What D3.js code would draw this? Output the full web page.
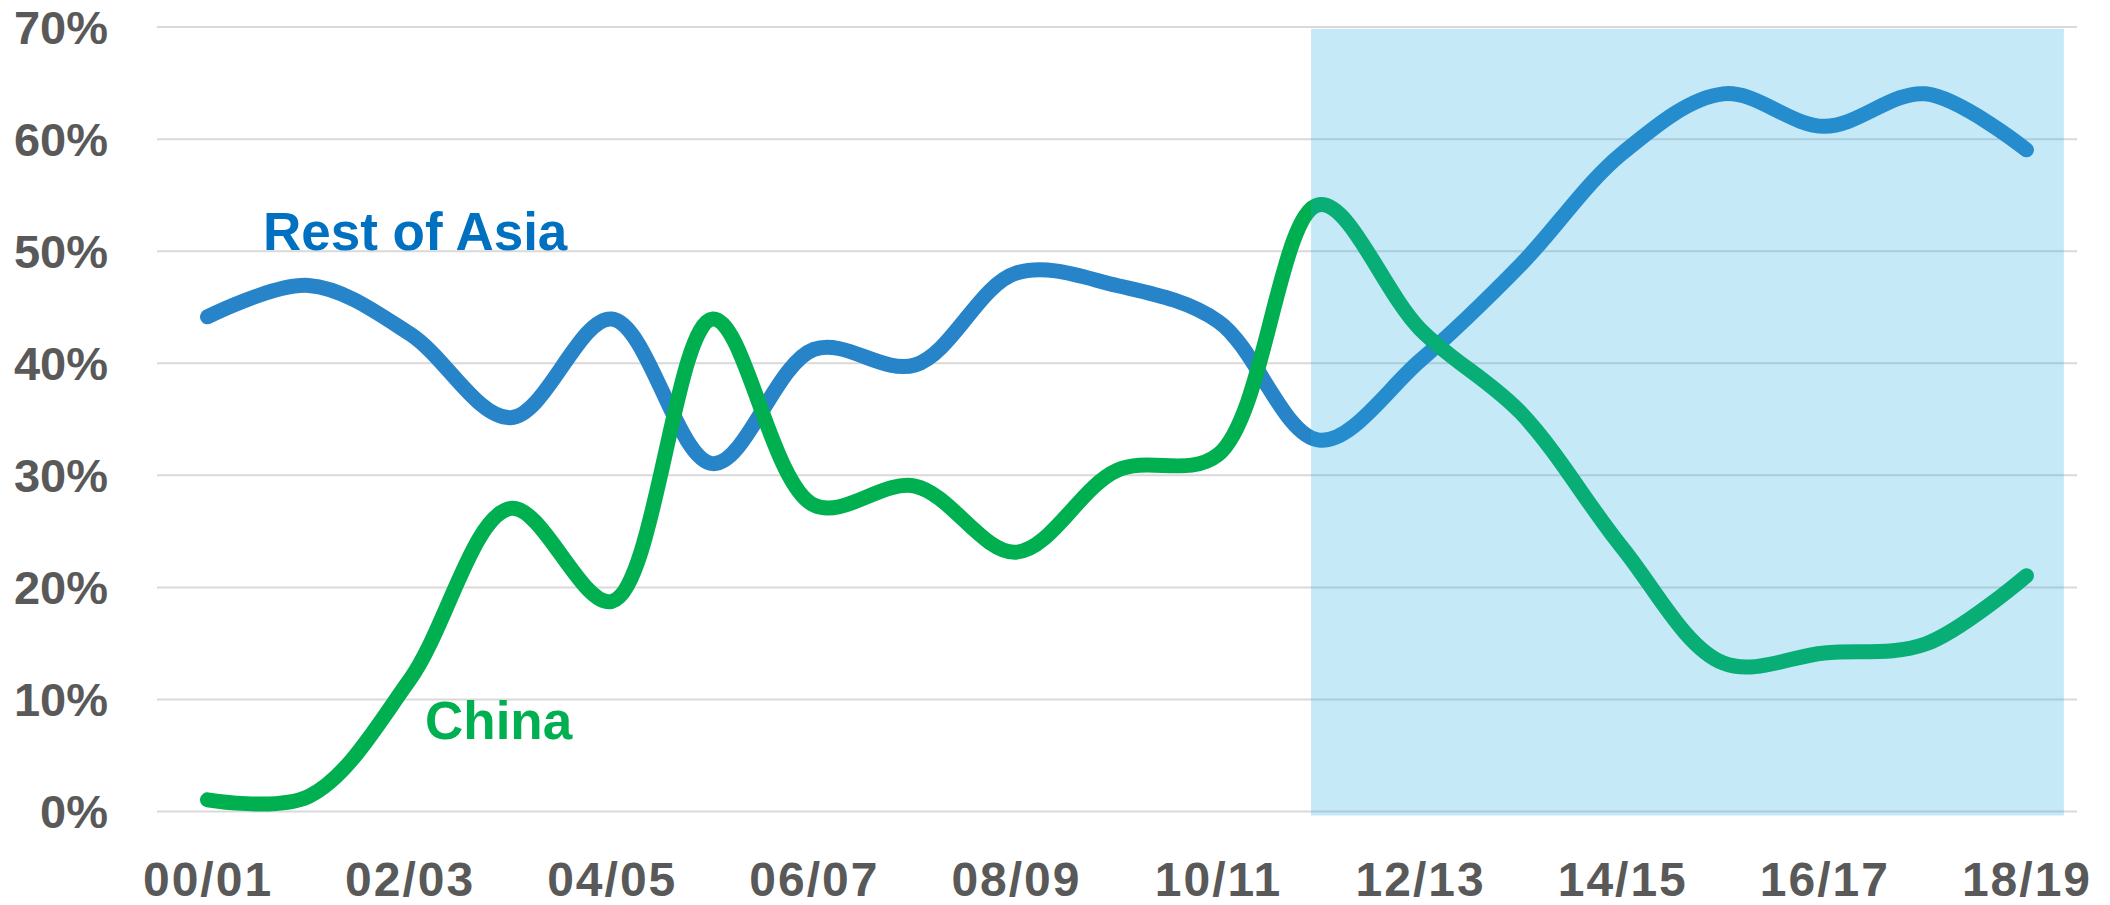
<!DOCTYPE html>
<html>
<head>
<meta charset="utf-8">
<script src="https://cdn.jsdelivr.net/npm/d3@7"></script>
<style>
  html, body { margin: 0; padding: 0; background: #ffffff; }
  svg { display: block; }
</style>
</head>
<body>
<script>
// ---- data ----
const categories = ["00/01","01/02","02/03","03/04","04/05","05/06","06/07","07/08","08/09","09/10",
                    "10/11","11/12","12/13","13/14","14/15","15/16","16/17","17/18","18/19"];
const restOfAsia = [44.1, 46.9, 42.6, 35.1, 43.9, 31.0, 41.2, 39.8, 48.0, 46.9,
                    43.7, 33.1, 40.2, 48.8, 58.7, 64.0, 61.1, 64.0, 59.0];
const china      = [1.0, 1.3, 11.7, 27.0, 18.7, 43.9, 27.3, 29.0, 23.1, 30.4,
                    31.8, 54.1, 43.0, 35.5, 23.5, 13.2, 14.1, 14.9, 21.0];
const yTicks = [0, 10, 20, 30, 40, 50, 60, 70];
const xTickLabels = ["00/01","02/03","04/05","06/07","08/09","10/11","12/13","14/15","16/17","18/19"];
const seriesNames = ["Rest of Asia", "China"];
// highlighted period, in category-index units and value units
const shadeIdx = [10.92, 18.37];
const shadeVal = [-0.4, 69.8];

// ---- layout ----
const W = 2110, H = 905;
const plotL = 157, plotR = 2077, plotT = 26.6, plotB = 811;

const svg = d3.select("body").append("svg").attr("width", W).attr("height", H);

const x = d3.scalePoint().domain(categories).range([plotL, plotR]).padding(0.5);
const xi = d3.scaleLinear().domain([0, categories.length - 1])
  .range([x(categories[0]), x(categories[categories.length - 1])]);
const y = d3.scaleLinear().domain([0, 70]).range([plotB, plotT]);

// gridlines + y labels
const yAxis = d3.axisLeft(y).tickValues(yTicks).tickSize(-(plotR - plotL)).tickPadding(50)
  .tickFormat(d => d + "%");
const gy = svg.append("g").attr("transform", `translate(${plotL},0)`).call(yAxis);
gy.select(".domain").remove();
gy.selectAll(".tick line").attr("stroke", "#D9D9D9").attr("stroke-width", 2);
gy.selectAll(".tick text")
  .attr("x", 108 - plotL)
  .attr("dy", "0.36em")
  .attr("fill", "#595959")
  .style("font-family", "'Liberation Sans', Arial, sans-serif")
  .style("font-weight", "bold")
  .style("font-size", "47px")
  .attr("text-anchor", "end");

// x labels
const xAxis = d3.axisBottom(x).tickValues(xTickLabels).tickSize(0).tickPadding(0);
const gx = svg.append("g").attr("transform", `translate(0,${plotB})`).call(xAxis);
gx.select(".domain").remove();
gx.selectAll(".tick text")
  .attr("y", 896 - plotB)
  .attr("dy", 0)
  .attr("fill", "#595959")
  .style("font-family", "'Liberation Sans', Arial, sans-serif")
  .style("font-weight", "bold")
  .style("font-size", "48px")
  .style("letter-spacing", "2px");

// lines
const line = d3.line()
  .x((d, i) => x(categories[i]))
  .y(d => y(d))
  .curve(d3.curveCatmullRom.alpha(0.5));

svg.append("path").datum(restOfAsia)
  .attr("d", line).attr("fill", "none")
  .attr("stroke", "#2884C8").attr("stroke-width", 15)
  .attr("stroke-linecap", "round").attr("stroke-linejoin", "round");

svg.append("path").datum(china)
  .attr("d", line).attr("fill", "none")
  .attr("stroke", "#00B050").attr("stroke-width", 15)
  .attr("stroke-linecap", "round").attr("stroke-linejoin", "round");

// series labels
svg.append("text").text(seriesNames[0])
  .attr("x", 263).attr("y", 250)
  .attr("fill", "#0070C0")
  .style("font-family", "'Liberation Sans', Arial, sans-serif")
  .style("font-weight", "bold").style("font-size", "53px");

svg.append("text").text(seriesNames[1])
  .attr("x", 425).attr("y", 739)
  .attr("fill", "#00B050")
  .style("font-family", "'Liberation Sans', Arial, sans-serif")
  .style("font-weight", "bold").style("font-size", "53px");

// shaded period (semi-transparent overlay)
svg.append("rect")
  .attr("x", xi(shadeIdx[0]))
  .attr("width", xi(shadeIdx[1]) - xi(shadeIdx[0]))
  .attr("y", y(shadeVal[1]))
  .attr("height", y(shadeVal[0]) - y(shadeVal[1]))
  .attr("fill", "rgb(30,170,226)")
  .attr("fill-opacity", 0.26);
</script>
</body>
</html>
